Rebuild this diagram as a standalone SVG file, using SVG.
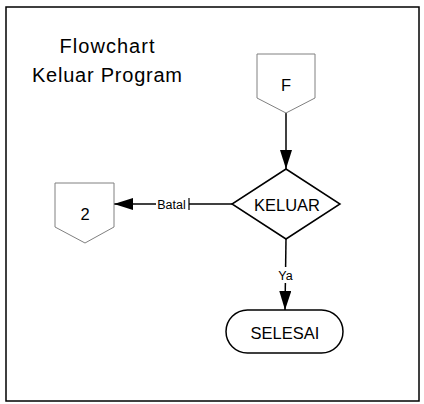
<svg xmlns="http://www.w3.org/2000/svg" width="424" height="404" viewBox="0 0 424 404">
<style>
text{font-family:"Liberation Sans",Arial,sans-serif;fill:#000}
.off{fill:#fff;stroke:#808080;stroke-width:1}
.shape{fill:#fff;stroke:#000;stroke-width:1.5}
.conn{stroke:#000;stroke-width:1.5;fill:none}
.lbl{font-size:12.5px;text-anchor:middle}
.nt{font-size:16.5px;text-anchor:middle}
</style>
<defs>
<marker id="ah" markerWidth="19" markerHeight="12" refX="19" refY="6" orient="auto" markerUnits="userSpaceOnUse" viewBox="0 0 19 12">
<path d="M0,0 L19,6 L0,12 Z" fill="#000"/>
</marker>
</defs>
<rect x="6" y="7" width="413" height="394" fill="#fff" stroke="#000" stroke-width="1.5"/>
<g id="title">
<text x="107" y="53" font-size="20" text-anchor="middle" textLength="95">Flowchart</text>
<text x="107" y="82" font-size="20" text-anchor="middle" textLength="150">Keluar Program</text>
</g>
<g id="connectors">
<path class="conn" d="M286,113 L286,169" marker-end="url(#ah)"/>
<path class="conn" d="M232,204 L114,204" marker-end="url(#ah)"/>
<path class="conn" d="M286,239 L285,310" marker-end="url(#ah)"/>
<rect x="156" y="196" width="33" height="15" fill="#fff"/>
<line x1="189" y1="198" x2="189" y2="210" stroke="#000" stroke-width="1.2"/>
<text class="lbl" x="171.5" y="209">Batal</text>
<rect x="277" y="267" width="17" height="16" fill="#fff"/>
<text class="lbl" x="285.5" y="280">Ya</text>
</g>
<g id="node-F">
<path class="off" d="M257,54 L315,54 L315,98 L286,113 L257,98 Z"/>
<text class="nt" x="286" y="91">F</text>
</g>
<g id="node-keluar">
<path class="shape" d="M286,169 L340,204 L286,239 L232,204 Z"/>
<text class="nt" x="287" y="211">KELUAR</text>
</g>
<g id="node-2">
<path class="off" d="M55,183 L114,183 L114,227 L85,243 L55,227 Z"/>
<text class="nt" x="85" y="220">2</text>
</g>
<g id="node-selesai">
<rect class="shape" x="226" y="310" width="117" height="43" rx="21.5" ry="21.5"/>
<text class="nt" x="285" y="339">SELESAI</text>
</g>
</svg>
